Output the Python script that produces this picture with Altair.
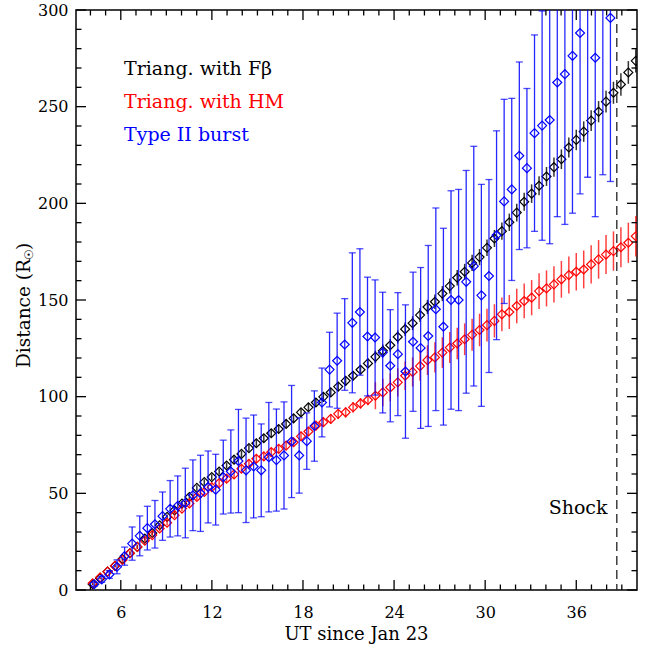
import altair as alt
import pandas as pd

# ---------------- data ----------------
# time grid (hours UT since Jan 23) of the two triangulation series
time_tri = [4.15, 4.64, 5.13, 5.62, 6.11, 6.60, 7.09, 7.58, 8.07, 8.56,
            9.05, 9.54, 10.03, 10.52, 11.01, 11.50, 11.99, 12.48, 12.97, 13.46,
            13.95, 14.44, 14.93, 15.42, 15.91, 16.40, 16.89, 17.38, 17.87, 18.36,
            18.85, 19.34, 19.83, 20.32, 20.81, 21.30, 21.79, 22.28, 22.77, 23.26,
            23.75, 24.24, 24.73, 25.22, 25.71, 26.20, 26.69, 27.18, 27.67, 28.16,
            28.65, 29.14, 29.63, 30.12, 30.61, 31.10, 31.59, 32.08, 32.57, 33.06,
            33.55, 34.04, 34.53, 35.02, 35.51, 36.00, 36.49, 36.98, 37.47, 37.96,
            38.45, 38.94, 39.43, 39.92]

# Triang. with F-beta (black)
r_fb = [3.0, 6.0, 9.5, 12.5, 16.0, 19.0, 22.3, 26.6, 29.5, 33.5,
        37.8, 41.2, 44.7, 48.1, 52.8, 55.8, 58.4, 61.3, 64.4, 67.4,
        70.4, 73.4, 75.9, 78.5, 81.1, 83.3, 85.9, 88.8, 91.9, 94.5,
        97.0, 99.9, 102.2, 105.2, 108.2, 110.8, 113.9, 117.2, 120.6, 123.7,
        126.6, 130.9, 134.9, 138.0, 142.2, 146.4, 149.1, 153.3, 157.2, 161.5,
        164.6, 169.2, 172.2, 177.0, 181.8, 185.6, 190.2, 195.2, 200.8, 205.0,
        209.1, 213.9, 218.7, 222.8, 228.9, 232.8, 237.1, 242.8, 247.4, 252.6,
        257.2, 261.5, 267.7, 273.7]
err_fb = [0.5, 0.5, 0.6, 0.7, 0.8, 0.9, 1.0, 1.0, 1.1, 1.2,
          1.2, 1.3, 1.3, 1.4, 1.4, 1.5, 1.5, 1.6, 1.6, 1.7,
          1.7, 1.8, 1.8, 1.9, 1.9, 2.0, 2.0, 2.0, 2.1, 2.1,
          2.2, 2.2, 2.3, 2.3, 2.4, 2.4, 2.5, 2.5,
          3.2, 3.3, 3.3, 3.4, 3.5, 3.6, 3.6, 3.7, 3.8, 3.9, 3.9, 4.0,
          4.1, 4.2, 4.2, 4.3, 4.4, 4.5, 4.5, 4.6, 4.7, 4.8,
          4.9, 4.9, 5.0, 5.1, 5.2, 5.3, 5.3, 5.4, 5.5, 5.6,
          5.7, 5.8, 5.9, 6.0]

# Triang. with HM (red)
r_hm = [3.5, 6.5, 9.5, 12.5, 15.5, 19.0, 22.3, 25.5, 28.4, 31.8,
        34.8, 38.7, 42.1, 44.8, 48.1, 50.7, 53.2, 55.3, 57.6, 59.8,
        62.7, 65.3, 67.9, 69.1, 71.3, 73.0, 74.7, 76.4, 79.5, 82.0,
        85.0, 86.8, 88.5, 91.1, 91.9, 94.5, 96.5, 98.3, 100.5, 102.2,
        104.8, 107.4, 110.8, 112.8, 115.8, 118.9, 120.3, 122.8, 125.4, 127.5,
        129.7, 132.0, 134.5, 137.0, 139.2, 142.6, 143.8, 146.9, 149.5, 151.2,
        154.6, 156.0, 158.1, 160.7, 162.9, 164.6, 165.8, 168.4, 171.0, 173.5,
        175.3, 177.3, 179.6, 183.0]
err_hm = [0.6, 0.7, 0.8, 0.9, 1.0, 1.1, 1.2, 1.2, 1.3, 1.4,
          1.4, 1.5, 1.5, 1.6, 1.6, 1.7, 1.7, 1.8, 1.8, 1.9,
          1.9, 2.0, 2.0, 2.1, 2.1, 2.2, 2.2, 2.3, 2.3, 2.4,
          2.4, 2.5, 2.5, 2.6, 2.6, 2.7, 2.7, 2.8,
          7.0, 7.1, 7.2, 7.3, 7.4, 7.5, 7.6, 7.7, 7.8, 7.9, 8.0, 8.1,
          8.2, 8.3, 8.4, 8.5, 8.6, 8.7, 8.8, 8.9, 9.0, 9.1,
          9.2, 9.3, 9.4, 9.5, 9.6, 9.7, 9.8, 9.9, 10.0, 10.1,
          10.2, 10.3, 10.4, 10.5]

# Type II burst (blue)
time_t2 = [4.25, 4.75, 5.25, 5.75, 6.25, 6.75, 7.25, 7.75, 8.25, 8.75,
           9.25, 9.75, 10.25, 10.75, 11.25, 11.75, 12.25, 12.75, 13.25, 13.75,
           14.25, 14.75, 15.25, 15.75, 16.25, 16.75, 17.25, 17.75, 18.25, 18.75,
           19.25, 19.75, 20.25, 20.75, 21.25, 21.75, 22.25, 22.75, 23.25, 23.75,
           24.25, 24.75, 25.25, 25.75, 26.25, 26.75, 27.25, 27.75, 28.25, 28.75,
           29.25, 29.75, 30.25, 30.75, 31.25, 31.75, 32.25, 32.75, 33.25, 33.75,
           34.25, 34.75, 35.25, 35.75, 36.25, 36.75, 37.25, 37.75, 38.25]
r_t2 = [3.0, 5.5, 8.0, 12.0, 17.5, 24.0, 28.0, 32.0, 34.0, 38.2,
        42.0, 43.5, 45.0, 49.0, 50.0, 53.3, 51.9, 58.4, 61.3, 66.7,
        61.9, 63.9, 61.9, 68.7, 67.2, 69.6, 76.8, 69.6, 77.0, 84.8,
        97.0, 114.0, 118.6, 127.0, 138.2, 143.8, 131.1, 130.6, 122.8, 116.0,
        122.0, 113.0, 128.4, 125.2, 131.4, 145.2, 136.2, 150.0, 150.0, 159.4,
        167.5, 152.4, 162.4, 183.5, 201.0, 207.2, 224.6, 218.2, 236.3, 240.2,
        243.1, 262.5, 266.8, 276.3, 288.1, 305.0, 275.3, 306.0, 295.9]
err_t2 = [1.0, 1.5, 2.0, 3.6, 4.7, 8.6, 10.3, 11.3, 12.3, 12.5,
          14.6, 15.5, 18.0, 18.3, 19.7, 18.6, 18.3, 19.1, 21.5, 26.7,
          27.0, 26.6, 24.0, 28.3, 26.4, 27.7, 29.0, 19.5, 14.6, 18.2,
          17.8, 19.3, 24.6, 23.7, 36.2, 32.7, 30.7, 29.8, 31.2, 29.0,
          31.8, 34.5, 36.0, 41.6, 46.8, 52.4, 50.9, 56.5, 57.2, 57.6,
          62.0, 57.4, 49.9, 54.0, 52.8, 47.1, 48.5, 41.2, 50.8, 59.3,
          64.0, 69.4, 77.7, 81.4, 83.2, 91.5, 82.2, 91.2, 84.6]

shock_time = [38.67]

x_major = [6, 12, 18, 24, 30, 36]
x_minor = [4, 5, 7, 8, 9, 10, 11, 13, 14, 15, 16, 17, 19, 20, 21, 22, 23,
           25, 26, 27, 28, 29, 31, 32, 33, 34, 35, 37, 38, 39]
y_major = [0, 50, 100, 150, 200, 250, 300]
y_minor = [10, 20, 30, 40, 60, 70, 80, 90, 110, 120, 130, 140, 160, 170, 180,
           190, 210, 220, 230, 240, 260, 270, 280, 290]

legend_labels = ["Triang. with Fβ", "Triang. with HM", "Type II burst"]
legend_colors = ["black", "#ff0000", "#0000ff"]

# ---------------- chart ----------------
FONT = "DejaVu Serif"
W, H = 561, 580
xscale = alt.Scale(domain=[3.05, 40], nice=False, zero=False)
yscale = alt.Scale(domain=[0, 300], nice=False, zero=False)

xaxis = alt.Axis(values=x_major, title=None, labelFont=FONT,
                 labelFontSize=16, labelPadding=14, ticks=False,
                 domain=False, grid=False, labelColor="black", format="d")
yaxis = alt.Axis(values=y_major, title=None, labelFont=FONT,
                 labelFontSize=16, labelPadding=8, ticks=False,
                 domain=False, grid=False, labelColor="black", format="d")


def frame(t, r, e):
    df = pd.DataFrame({"t": t, "r": r, "e": e})
    df["lo"] = df["r"] - df["e"]
    df["hi"] = df["r"] + df["e"]
    return df


fb = frame(time_tri, r_fb, err_fb)
hm = frame(time_tri, r_hm, err_hm)
t2 = frame(time_t2, r_t2, err_t2)

X = lambda f: alt.X(f, type="quantitative", scale=xscale, axis=xaxis)
Y = lambda f: alt.Y(f, type="quantitative", scale=yscale, axis=yaxis)


def bars(df, color, width, opacity):
    return alt.Chart(df).mark_rule(color=color, strokeWidth=width,
                                   opacity=opacity, clip=True).encode(
        x=X("t"), y=Y("lo"), y2="hi")


def pts(df, color):
    return alt.Chart(df).mark_point(shape="diamond", filled=False, color=color,
                                    size=80, strokeWidth=1.2, opacity=1,
                                    clip=True).encode(x=X("t"), y=Y("r"))


tick_style = dict(color="black", strokeWidth=1.3)


def xticks(vals, length):
    df = pd.DataFrame({"v": vals})
    b = alt.Chart(df).mark_rule(**tick_style).encode(
        x=X("v"), y=alt.value(H), y2=alt.value(H - length))
    t = alt.Chart(df).mark_rule(**tick_style).encode(
        x=X("v"), y=alt.value(0), y2=alt.value(length))
    return b + t


def yticks(vals, length):
    df = pd.DataFrame({"v": vals})
    l = alt.Chart(df).mark_rule(**tick_style).encode(
        y=Y("v"), x=alt.value(0), x2=alt.value(length))
    r = alt.Chart(df).mark_rule(**tick_style).encode(
        y=Y("v"), x=alt.value(W), x2=alt.value(W - length))
    return l + r


shock = alt.Chart(pd.DataFrame({"t": shock_time})).mark_rule(
    strokeDash=[9, 5], color="#222222", strokeWidth=1.3).encode(x=X("t"))

blue_caps_lo = alt.Chart(t2).mark_tick(orient="horizontal", color="#0000ff",
                                       size=7, thickness=1.3, clip=True).encode(
    x=X("t"), y=Y("lo"))
blue_caps_hi = alt.Chart(t2).mark_tick(orient="horizontal", color="#0000ff",
                                       size=7, thickness=1.3, clip=True).encode(
    x=X("t"), y=Y("hi"))


def label(text, x, y, color, size, align="left", angle=0, baseline="alphabetic"):
    kw = dict(align=align, baseline=baseline, font=FONT, fontSize=size,
              color=color)
    if angle:
        kw["angle"] = angle
    return alt.Chart(pd.DataFrame({"s": [text]})).mark_text(**kw).encode(
        x=alt.value(x), y=alt.value(y), text="s:N")


legend = (label(legend_labels[0], 48, 65, legend_colors[0], 19)
          + label(legend_labels[1], 48, 98, legend_colors[1], 19)
          + label(legend_labels[2], 48, 131, legend_colors[2], 19))

# y title with a subscript solar symbol, built from three rotated pieces
ytitle = (label("Distance (R", -52, 358, "black", 18.5, align="left",
                angle=270, baseline="middle")
          + label("☉", -47, 250, "black", 12, align="left", angle=270,
                  baseline="middle")
          + label(")", -52, 240, "black", 18.5, align="left", angle=270,
                  baseline="middle"))

chart = alt.layer(
    bars(fb, "black", 1.5, 0.8),
    pts(fb, "black"),
    bars(hm, "#ff0000", 1.5, 0.75),
    pts(hm, "#ff0000"),
    bars(t2, "#0000ff", 1.3, 0.85),
    blue_caps_lo, blue_caps_hi,
    pts(t2, "#0000ff"),
    shock,
    xticks(x_major, 10), xticks(x_minor, 5.5),
    yticks(y_major, 10), yticks(y_minor, 5.5),
    legend,
    label("Shock", 531.5, 504, "black", 19, align="right"),
    label("UT since Jan 23", 280.5, 630, "black", 18, align="center"),
    ytitle,
).properties(
    width=W, height=H,
    autosize=alt.AutoSizeParams(type="none"),
    padding={"left": 76, "top": 10, "right": 9, "bottom": 55},
    background="white",
).configure_view(stroke="black", strokeWidth=1.5)

chart.save("out.html", embed_options={"renderer": "svg", "actions": False})
